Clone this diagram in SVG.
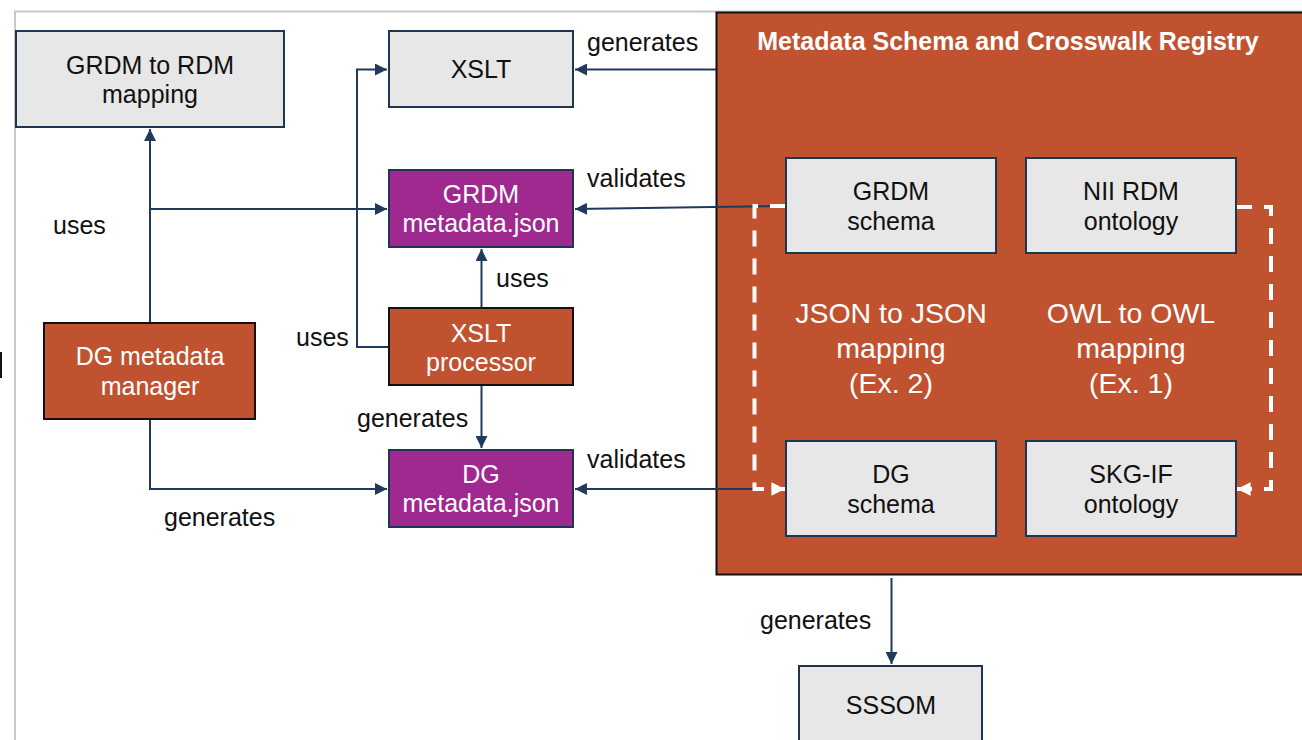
<svg xmlns="http://www.w3.org/2000/svg" width="1302" height="740" viewBox="0 0 1302 740">
<style>
text{font-family:"Liberation Sans",Arial,sans-serif;font-size:25px;fill:#111}
.c{text-anchor:middle}
.w{fill:#fff}
.gray{fill:#e7e7e7;stroke:#1f3550;stroke-width:2}
.org{fill:#c05230;stroke:#111;stroke-width:2}
.pur{fill:#a0298f;stroke:#1f3550;stroke-width:2}
.ln{fill:none;stroke:#1f3a5a;stroke-width:2}
.dash{fill:none;stroke:#fff;stroke-width:4;stroke-dasharray:16 12}
.big{font-size:28.5px}
.title{font-size:25px;font-weight:bold}
</style>
<defs>
<marker id="a" viewBox="0 0 10 10" refX="10" refY="5" markerWidth="6" markerHeight="6" markerUnits="strokeWidth" orient="auto">
<path d="M0,0L10,5L0,10z" fill="#1f3a5a"/>
</marker>
<marker id="aw" viewBox="0 0 10 10" refX="10" refY="5" markerWidth="3.6" markerHeight="3.4" markerUnits="strokeWidth" orient="auto">
<path d="M0,0L10,5L0,10z" fill="#fff"/>
</marker>
</defs>
<rect width="1302" height="740" fill="#fff"/>
<path d="M14,11.5H1302M15,11V740" fill="none" stroke="#c8c8c8" stroke-width="2"/>
<rect x="0" y="352" width="2" height="26" fill="#111"/>

<g id="registry">
<rect x="716.5" y="12.5" width="590" height="562" class="org"/>
<text x="1008" y="50" class="c w title">Metadata Schema and Crosswalk Registry</text>
<text x="891" y="323" class="c w big">JSON to JSON</text>
<text x="891" y="358" class="c w big">mapping</text>
<text x="891" y="393" class="c w big">(Ex. 2)</text>
<text x="1131" y="323" class="c w big">OWL to OWL</text>
<text x="1131" y="358" class="c w big">mapping</text>
<text x="1131" y="393" class="c w big">(Ex. 1)</text>
</g>

<g id="connectors">
<path class="ln" d="M716,69.5H575" marker-end="url(#a)"/>
<path class="ln" d="M786,206L575,209" marker-end="url(#a)"/>
<path class="ln" d="M753,489H575" marker-end="url(#a)"/>
<path class="ln" d="M150,323V129" marker-end="url(#a)"/>
<path class="ln" d="M150,209H387" marker-end="url(#a)"/>
<path class="ln" d="M150,419V489H387" marker-end="url(#a)"/>
<path class="ln" d="M389,347H357V69.5H387" marker-end="url(#a)"/>
<path class="ln" d="M481.5,308V249" marker-end="url(#a)"/>
<path class="ln" d="M481.5,385V448" marker-end="url(#a)"/>
<path class="ln" d="M891.5,578V664" marker-end="url(#a)"/>
<path class="dash" d="M786,206H754.5V489H785" marker-end="url(#aw)"/>
<path class="dash" d="M1236,207H1271V489H1237" marker-end="url(#aw)"/>
<text x="587" y="51">generates</text>
<text x="587" y="187">validates</text>
<text x="53" y="234">uses</text>
<text x="296" y="346">uses</text>
<text x="496" y="287">uses</text>
<text x="357" y="427">generates</text>
<text x="587" y="468">validates</text>
<text x="164" y="526">generates</text>
<text x="760" y="629">generates</text>
</g>

<g id="grdm-rdm-mapping">
<rect x="16" y="31" width="268" height="96" class="gray"/>
<text x="150" y="74" class="c">GRDM to RDM</text>
<text x="150" y="103" class="c">mapping</text>
</g>
<g id="xslt">
<rect x="389" y="31" width="184" height="76" class="gray"/>
<text x="481" y="78" class="c">XSLT</text>
</g>
<g id="grdm-metadata">
<rect x="389" y="170" width="184" height="77" class="pur"/>
<text x="481" y="203" class="c w">GRDM</text>
<text x="481" y="232" class="c w">metadata.json</text>
</g>
<g id="xslt-processor">
<rect x="389" y="308" width="184" height="77" class="org"/>
<text x="481" y="342" class="c w">XSLT</text>
<text x="481" y="371" class="c w">processor</text>
</g>
<g id="dg-metadata">
<rect x="389" y="450" width="184" height="77" class="pur"/>
<text x="481" y="483" class="c w">DG</text>
<text x="481" y="512" class="c w">metadata.json</text>
</g>
<g id="dg-manager">
<rect x="44" y="323" width="211" height="96" class="org"/>
<text x="150" y="365" class="c w">DG metadata</text>
<text x="150" y="395" class="c w">manager</text>
</g>
<g id="grdm-schema">
<rect x="786" y="158" width="210" height="95" class="gray"/>
<text x="891" y="200" class="c">GRDM</text>
<text x="891" y="230" class="c">schema</text>
</g>
<g id="nii-rdm">
<rect x="1026" y="158" width="210" height="95" class="gray"/>
<text x="1131" y="200" class="c">NII RDM</text>
<text x="1131" y="230" class="c">ontology</text>
</g>
<g id="dg-schema">
<rect x="786" y="441" width="210" height="95" class="gray"/>
<text x="891" y="483" class="c">DG</text>
<text x="891" y="513" class="c">schema</text>
</g>
<g id="skg-if">
<rect x="1026" y="441" width="210" height="95" class="gray"/>
<text x="1131" y="483" class="c">SKG-IF</text>
<text x="1131" y="513" class="c">ontology</text>
</g>
<g id="sssom">
<rect x="799" y="666" width="183" height="90" class="gray"/>
<text x="891" y="714" class="c">SSSOM</text>
</g>
</svg>
